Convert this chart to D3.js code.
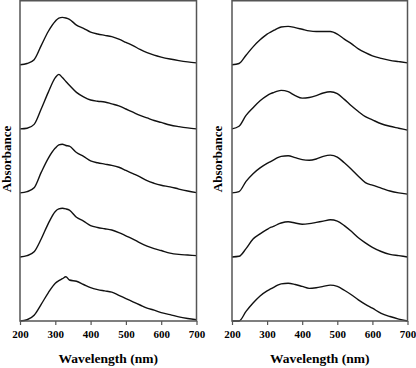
<!DOCTYPE html>
<html><head><meta charset="utf-8">
<script src="https://cdn.jsdelivr.net/npm/d3@7"></script>
<style>
html,body{margin:0;padding:0;background:#fff;}
svg{display:block;}
text{font-family:"Liberation Serif","Times New Roman",serif;font-weight:bold;fill:#000;}
</style></head>
<body>
<script>
const wavelengths = [200,220,240,260,280,300,310,320,330,340,360,380,400,420,440,460,480,500,520,540,560,580,600,625,650,675,700];
const xTicks = [200,300,400,500,600,700];
const xTitle = "Wavelength (nm)";
const yTitle = "Absorbance";
const offsets = [4,3,2,1,0];

// Left panel spectra (top to bottom), absorbance above each baseline
const leftA = [0,0.02,0.08,0.30,0.52,0.68,0.73,0.74,0.73,0.71,0.62,0.57,0.51,0.48,0.46,0.44,0.40,0.35,0.30,0.24,0.19,0.15,0.12,0.09,0.065,0.045,0.03];
const leftB = [0,0.01,0.07,0.31,0.57,0.80,0.85,0.80,0.74,0.68,0.57,0.50,0.45,0.43,0.42,0.39,0.36,0.31,0.26,0.21,0.17,0.13,0.10,0.06,0.035,0.015,0];
const leftC = [0,0.02,0.08,0.32,0.54,0.70,0.75,0.76,0.74,0.73,0.63,0.57,0.50,0.47,0.45,0.43,0.40,0.35,0.30,0.25,0.19,0.15,0.12,0.095,0.06,0.03,0.005];
const leftD = [0,0.02,0.08,0.28,0.52,0.71,0.75,0.76,0.75,0.73,0.62,0.56,0.49,0.46,0.44,0.42,0.38,0.33,0.28,0.22,0.17,0.13,0.10,0.06,0.04,0.03,0.02];
const leftE = [0,0.02,0.09,0.26,0.44,0.59,0.63,0.66,0.69,0.64,0.62,0.57,0.52,0.49,0.47,0.45,0.40,0.35,0.30,0.25,0.20,0.17,0.13,0.10,0.065,0.04,0.02];

// Right panel spectra (top to bottom)
const rightA = [0,0.02,0.15,0.28,0.39,0.48,0.51,0.54,0.57,0.59,0.60,0.58,0.555,0.53,0.52,0.52,0.52,0.48,0.40,0.33,0.25,0.19,0.14,0.10,0.07,0.05,0.03];
const rightB = [0,0.04,0.21,0.33,0.44,0.52,0.55,0.57,0.59,0.60,0.58,0.52,0.48,0.49,0.52,0.56,0.58,0.55,0.46,0.36,0.27,0.19,0.14,0.08,0.04,0.01,-0.02];
const rightC = [0,0.02,0.18,0.30,0.39,0.46,0.49,0.52,0.55,0.57,0.58,0.55,0.52,0.51,0.53,0.57,0.59,0.56,0.47,0.37,0.26,0.16,0.12,0.075,0.03,0.0,-0.02];
const rightD = [0,0.01,0.13,0.28,0.36,0.43,0.46,0.48,0.51,0.53,0.55,0.53,0.51,0.52,0.54,0.56,0.58,0.56,0.49,0.40,0.30,0.22,0.15,0.085,0.04,0.02,0];
const rightE = [0,0.0,0.15,0.28,0.39,0.47,0.50,0.53,0.56,0.58,0.59,0.57,0.54,0.51,0.52,0.54,0.56,0.54,0.48,0.41,0.33,0.26,0.20,0.12,0.07,0.03,0];

const leftSeries = [leftA,leftB,leftC,leftD,leftE];
const rightSeries = [rightA,rightB,rightC,rightD,rightE];

const W = 416, H = 368;
const svg = d3.select("body").append("svg").attr("width",W).attr("height",H);

const y = d3.scaleLinear().domain([0,5]).range([321,0.75]);

function panel(x0, x1, series, labelX){
  const x = d3.scaleLinear().domain([200,700]).range([x0,x1]);
  const g = svg.append("g");
  const line = d3.line().x(d=>x(d[0])).y(d=>y(d[1])).curve(d3.curveMonotoneX);
  series.forEach((s,i)=>{
    const pts = wavelengths.map((w,j)=>[w, s[j]+offsets[i]]);
    g.append("path").attr("d",line(pts)).attr("fill","none")
      .attr("stroke","#111").attr("stroke-width",1.4).attr("stroke-linejoin","round");
  });
  g.append("rect").attr("x",x0).attr("y",y(5)).attr("width",x1-x0).attr("height",y(0)-y(5))
    .attr("fill","none").attr("stroke","#555").attr("stroke-width",1.5);
  const ax = g.append("g").attr("transform",`translate(0,${y(0)})`)
    .call(d3.axisBottom(x).tickValues(xTicks).tickSize(4).tickSizeOuter(0).tickPadding(5));
  ax.select(".domain").remove();
  ax.selectAll(".tick line").attr("stroke","#555").attr("stroke-width",1.2);
  ax.selectAll(".tick text").attr("font-size",11).style("font-family",'"Liberation Serif",serif').style("font-weight","bold");
  g.append("text").attr("x",(x0+x1)/2).attr("y",363).attr("text-anchor","middle")
    .attr("font-size",13.5).text(xTitle);
  g.append("text").attr("transform",`translate(${labelX},159) rotate(-90)`).attr("text-anchor","middle")
    .attr("font-size",13).text(yTitle);
}

panel(20, 196.5, leftSeries, 10.5);
panel(232, 407.5, rightSeries, 221.5);
</script>
</body></html>
